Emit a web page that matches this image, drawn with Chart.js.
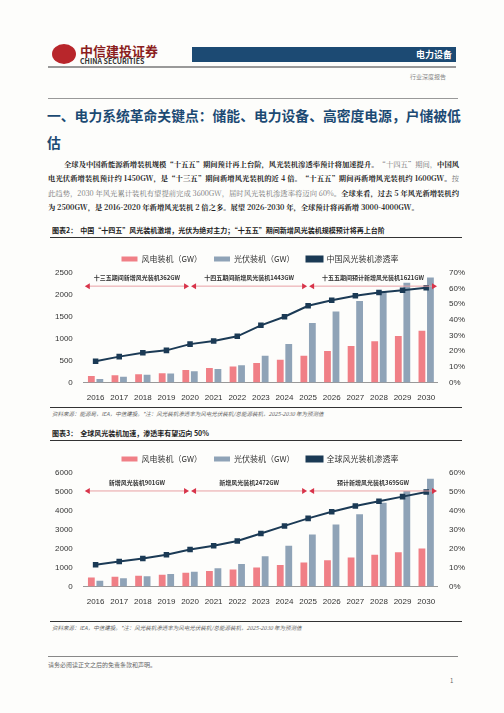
<!DOCTYPE html>
<html><head><meta charset="utf-8">
<script src="https://cdn.jsdelivr.net/npm/chart.js@4"></script>
<style>
body{margin:0;background:#fff;font-family:"Noto Sans CJK SC",sans-serif;color:#222;}
.page{position:relative;width:504px;height:713px;overflow:hidden;background:#fdfdfb;}
.abs{position:absolute;}
</style></head><body><div class="page">
<div class="abs" style="left:52px;top:44px;width:24px;height:20px;border-radius:50%;background:#b8262b;"></div>
<div class="abs" style="left:80px;top:41px;font-size:13px;font-weight:bold;color:#8b1d20;">中信建投证券</div>
<div class="abs" style="left:80px;top:56px;font-size:7px;font-weight:bold;color:#333;">CHINA SECURITIES</div>
<div class="abs" style="left:192px;top:47px;width:264px;height:15px;background:#1c4a73;color:#fff;font-size:9px;font-weight:bold;text-align:right;line-height:15px;padding-right:4px;box-sizing:border-box;">电力设备</div>
<div class="abs" style="left:48px;top:66px;width:408px;height:2px;background:#999;"></div>
<div class="abs" style="left:410px;top:72px;font-size:6px;color:#888;">行业深度报告</div>
<div class="abs" style="left:48px;top:98px;width:410px;height:1px;background:#999;"></div>
<div class="abs" style="left:47px;top:102px;width:416px;font-size:13.8px;font-weight:bold;color:#1c4a73;line-height:27px;">一、电力系统革命关键点：储能、电力设备、高密度电源，户储被低估</div>
<div class="abs" style="left:48px;top:157px;width:411px;font-family:'Noto Serif CJK SC',serif;font-size:7.3px;line-height:14.3px;text-indent:16px;text-align:justify;">
<b>全球及中国新能源新增装机规模“十五五”期间预计再上台阶，风光装机渗透率预计将加速提升。</b><span style="color:#777">“十四五”期间，</span><b>中国风电光伏新增装机预计约 1450GW，是“十三五”期间新增风光装机的近 4 倍。“十五五”期间再新增风光装机约 1600GW。</b><span style="color:#777">按此趋势，2030 年风光累计装机有望提前完成 3600GW，届时风光装机渗透率将迈向 60%。</span><b>全球来看，过去 5 年风光新增装机约为 2500GW，是 2016-2020 年新增风光装机 2 倍之多。展望 2026-2030 年，全球预计将再新增 3000-4000GW。</b></div>
<div class="abs" style="left:52px;top:225px;font-size:7px;font-weight:bold;">图表2：&nbsp; 中国“十四五”风光装机激增，光伏为绝对主力；“十五五”期间新增风光装机规模预计将再上台阶</div>
<div class="abs" style="left:50px;top:237px;width:412px;height:1px;background:#333;"></div>
<div class="abs" style="left:50px;top:243px;width:420px;height:163px;"><canvas id="c1"></canvas></div>
<div class="abs" style="left:50px;top:407px;width:412px;height:1px;background:#333;"></div>
<div class="abs" style="left:52px;top:410px;font-size:5.5px;color:#666;font-style:italic;">资料来源：能源局，IEA，中信建投。*注：风光装机渗透率为风电光伏装机/总能源装机，2025-2030 年为预测值</div>
<div class="abs" style="left:52px;top:428px;font-size:7px;font-weight:bold;">图表3：&nbsp; 全球风光装机加速，渗透率有望迈向 50%</div>
<div class="abs" style="left:50px;top:440px;width:412px;height:1px;background:#333;"></div>
<div class="abs" style="left:50px;top:443px;width:420px;height:167px;"><canvas id="c2"></canvas></div>
<div class="abs" style="left:50px;top:621px;width:412px;height:1px;background:#333;"></div>
<div class="abs" style="left:52px;top:624px;font-size:5.5px;color:#666;font-style:italic;">资料来源：IEA，中信建投。*注：风光装机渗透率为风电光伏装机/总能源装机，2025-2030 年为预测值</div>
<div class="abs" style="left:48px;top:656px;width:410px;height:1px;background:#888;"></div>
<div class="abs" style="left:48px;top:660px;font-size:6px;color:#666;">请务必阅读正文之后的免责条款和声明。</div>
<div class="abs" style="left:450px;top:676px;font-size:6px;color:#666;">1</div>
</div>
<script>
const years = ['2016','2017','2018','2019','2020','2021','2022','2023','2024','2025','2026','2027','2028','2029','2030'];
const cnWind = [148,164,184,210,282,328,365,441,520,610,720,830,940,1060,1180];
const cnSolar = [77,130,175,204,253,306,393,609,880,1360,1620,1860,2090,2280,2400];
const cnRate = [13.5,16.5,19,20.5,24.5,26.5,29.5,36.5,42,49,52.5,55.5,57.5,59,60.5];
const glWind = [470,510,560,620,720,820,900,1000,1130,1260,1380,1530,1670,1810,2000];
const glSolar = [300,430,540,650,780,960,1180,1600,2150,2750,3270,3820,4420,5050,5700];
const glRate = [11.5,13.2,14.8,16.8,19.5,21.5,24,28,32,36,39.5,42.5,45,47.5,50];
const cnSpans = [['十三五期间新增风光装机362GW',0,4],['十四五期间新增风光装机1443GW',4,9],['十五五期间预计新增风光装机1621GW',9,14]];
const glSpans = [['新增风光装机901GW',0,4],['新增风光装机2472GW',4,9],['预计新增风光装机3695GW',9,14]];

function spanPlugin(spans, yVal){
  return {id:'spans', afterDatasetsDraw(chart){
    const {ctx, scales:{x, y}} = chart;
    const half = (x.getPixelForValue(1) - x.getPixelForValue(0)) / 2;
    const yy = y.getPixelForValue(yVal);
    ctx.save();
    spans.forEach(([t, a, b], i) => {
      const l = x.getPixelForValue(a) - (i === 0 ? half : 0) + 4;
      const r = x.getPixelForValue(b) + (i === 2 ? half : 0) - 4;
      ctx.strokeStyle = '#e8a0a4'; ctx.lineWidth = 1;
      ctx.beginPath(); ctx.moveTo(l, yy); ctx.lineTo(r, yy); ctx.stroke();
      ctx.fillStyle = '#d8344a';
      ctx.beginPath(); ctx.moveTo(l - 3, yy); ctx.lineTo(l + 2, yy - 3); ctx.lineTo(l + 2, yy + 3); ctx.fill();
      ctx.beginPath(); ctx.moveTo(r + 3, yy); ctx.lineTo(r - 2, yy - 3); ctx.lineTo(r - 2, yy + 3); ctx.fill();
      ctx.fillStyle = '#333'; ctx.font = 'bold 6px "Noto Sans CJK SC"'; ctx.textAlign = 'center';
      ctx.fillText(t, (l + r) / 2, yy - 8);
    });
    ctx.restore();
  }};
}

function makeChart(id, wind, solar, rate, lineLabel, yMax, yStep, rMax, spans, spanY){
  new Chart(document.getElementById(id), {
    type: 'bar',
    data: {
      labels: years,
      datasets: [
        {label:'风电装机（GW）', data: wind, backgroundColor:'#f07f86', barPercentage:0.8, categoryPercentage:0.72, order:1},
        {label:'光伏装机（GW）', data: solar, backgroundColor:'#8fa3b7', barPercentage:0.8, categoryPercentage:0.72, order:1},
        {type:'line', label: lineLabel, data: rate, yAxisID:'y1', borderColor:'#1b3a55', backgroundColor:'#1b3a55', borderWidth:2, pointStyle:'rect', pointRadius:2.5, order:0}
      ]
    },
    options: {
      animation:false, responsive:true, maintainAspectRatio:false,
      layout:{padding:{left:2,right:2,top:0,bottom:0}},
      plugins:{legend:{labels:{boxWidth:16, boxHeight:5, font:{size:8, family:'Noto Sans CJK SC'}, color:'#333', padding:12,
        sort:(a,b)=>a.datasetIndex-b.datasetIndex}}, tooltip:{enabled:false}},
      scales:{
        x:{grid:{display:false}, border:{color:'#999'}, ticks:{font:{size:8}, color:'#333', maxRotation:0, autoSkip:false}},
        y:{min:0, max:yMax, ticks:{stepSize:yStep, callback:v=>String(v), font:{size:8}, color:'#333'}, grid:{display:false}, border:{display:false}},
        y1:{position:'right', min:0, max:rMax, ticks:{stepSize:10, callback:v=>v+'%', font:{size:8}, color:'#333'}, grid:{display:false}, border:{display:false}}
      }
    },
    plugins:[spanPlugin(spans, spanY)]
  });
}
makeChart('c1', cnWind, cnSolar, cnRate, '中国风光装机渗透率', 2500, 500, 70, cnSpans, 2200);
makeChart('c2', glWind, glSolar, glRate, '全球风光装机渗透率', 6000, 1000, 60, glSpans, 5050);
</script></body></html>
